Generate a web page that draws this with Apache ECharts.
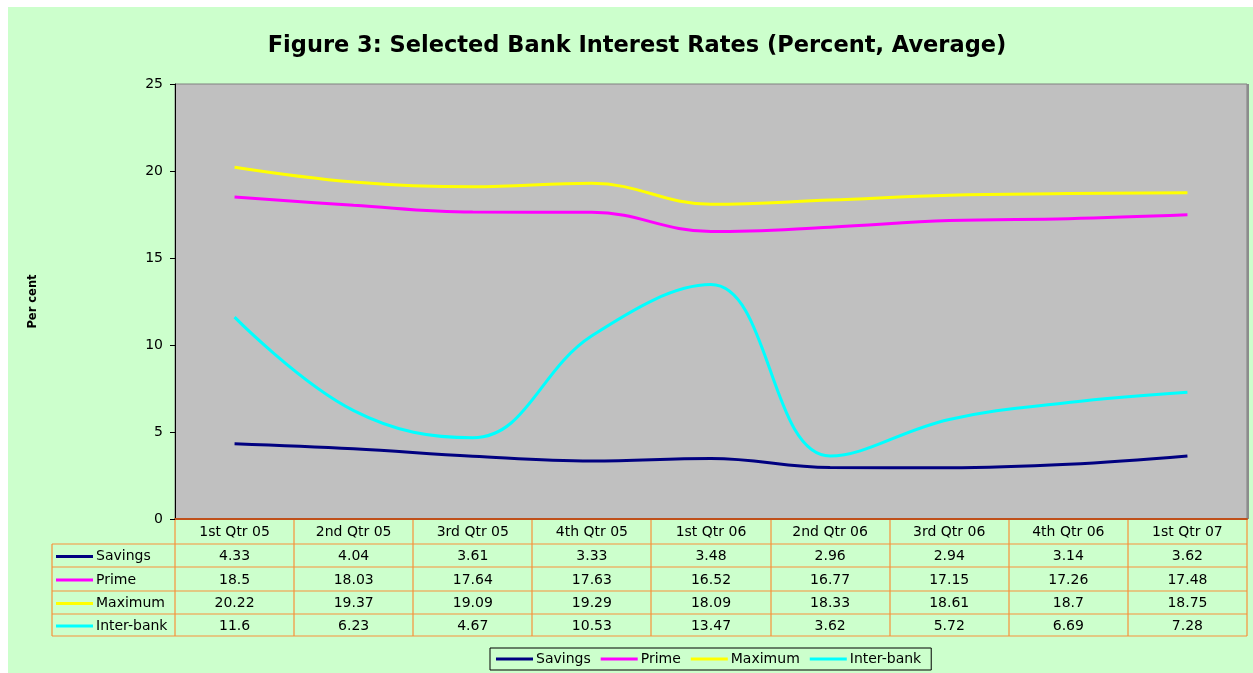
<!DOCTYPE html>
<html>
<head>
<meta charset="utf-8">
<script src="https://cdn.jsdelivr.net/npm/echarts@6/dist/echarts.min.js"></script>
<style>
  html, body { margin: 0; padding: 0; background: #ffffff; }
  #main { width: 1253px; height: 673px; }
</style>
</head>
<body>
<div id="main"></div>
<script>
// data
const quarters = ['1st Qtr 05', '2nd Qtr 05', '3rd Qtr 05', '4th Qtr 05', '1st Qtr 06', '2nd Qtr 06', '3rd Qtr 06', '4th Qtr 06', '1st Qtr 07']
const savings = [4.33, 4.04, 3.61, 3.33, 3.48, 2.96, 2.94, 3.14, 3.62]
const prime = [18.5, 18.03, 17.64, 17.63, 16.52, 16.77, 17.15, 17.26, 17.48]
const maximum = [20.22, 19.37, 19.09, 19.29, 18.09, 18.33, 18.61, 18.7, 18.75]
const interbank = [11.6, 6.23, 4.67, 10.53, 13.47, 3.62, 5.72, 6.69, 7.28]
const seriesNames = ['Savings', 'Prime', 'Maximum', 'Inter-bank']
const seriesColors = ['#000080', '#FF00FF', '#FFFF00', '#00FFFF']

const chartDom = document.getElementById('main')
const myChart = echarts.init(chartDom)

// grid box (px)
const gLeft = 175
const gTop = 84
const gRight = 1247
const gBottom = 519
const colW = (gRight - gLeft) / quarters.length
const tableLeft = 52
const rowLines = [544, 567, 591, 614, 636] // horizontal rules of the data table
const tableColor = '#F7913A'
const font = 'DejaVu Sans, Verdana, sans-serif'

const allData = [savings, prime, maximum, interbank]

const graphics = [
  // white strips at top and left
  { type: 'rect', shape: { x: 0, y: 0, width: 1253, height: 7 }, style: { fill: '#ffffff' }, silent: true },
  { type: 'rect', shape: { x: 0, y: 0, width: 8, height: 673 }, style: { fill: '#ffffff' }, silent: true },
  // darker right edge of the plot area
  { type: 'line', shape: { x1: gRight + 1, y1: gTop, x2: gRight + 1, y2: gBottom }, style: { stroke: '#8C8C8C', lineWidth: 2 }, silent: true }
]

// table horizontal lines
for (const y of rowLines) {
  graphics.push({ type: 'line', shape: { x1: tableLeft, y1: y, x2: gRight, y2: y }, style: { stroke: tableColor, lineWidth: 1.2 }, silent: true })
}
// table vertical lines
graphics.push({ type: 'line', shape: { x1: tableLeft, y1: rowLines[0], x2: tableLeft, y2: rowLines[rowLines.length - 1] }, style: { stroke: tableColor, lineWidth: 1.2 }, silent: true })
for (let i = 0; i <= quarters.length; i++) {
  const x = Math.round(gLeft + i * colW)
  graphics.push({ type: 'line', shape: { x1: x, y1: gBottom, x2: x, y2: rowLines[rowLines.length - 1] }, style: { stroke: tableColor, lineWidth: 1.2 }, silent: true })
}
// row keys, names and values
for (let r = 0; r < allData.length; r++) {
  const yMid = (rowLines[r] + rowLines[r + 1]) / 2 + 1
  graphics.push({ type: 'line', shape: { x1: 56, y1: yMid, x2: 93, y2: yMid }, style: { stroke: seriesColors[r], lineWidth: 3 }, silent: true })
  graphics.push({ type: 'text', x: 96, y: yMid, style: { text: seriesNames[r], fill: '#000', font: '14px ' + font, textVerticalAlign: 'middle' }, silent: true })
  for (let i = 0; i < quarters.length; i++) {
    graphics.push({
      type: 'text',
      x: gLeft + (i + 0.5) * colW,
      y: yMid,
      style: { text: String(allData[r][i]), fill: '#000', font: '14px ' + font, textAlign: 'center', textVerticalAlign: 'middle' },
      silent: true
    })
  }
}

const option = {
  backgroundColor: '#CCFFCC',
  animation: false,
  title: {
    text: 'Figure 3: Selected Bank Interest Rates (Percent, Average)',
    left: 632,
    textAlign: 'center',
    top: 30,
    textStyle: { fontFamily: font, fontSize: 22.5, fontWeight: 'bold', color: '#000' }
  },
  legend: {
    left: 490,
    top: 648,
    data: seriesNames,
    icon: 'rect',
    itemWidth: 37,
    itemHeight: 3,
    itemGap: 10,
    padding: [4, 10, 4, 6],
    borderColor: '#000',
    borderWidth: 1,
    textStyle: { fontFamily: font, fontSize: 14, color: '#000', padding: [0, 0, 0, -2] }
  },
  grid: {
    left: gLeft,
    top: gTop,
    right: 1253 - gRight,
    bottom: 673 - gBottom,
    show: true,
    backgroundColor: '#C0C0C0',
    borderColor: '#808080',
    borderWidth: 1
  },
  xAxis: {
    type: 'category',
    data: quarters,
    boundaryGap: true,
    axisLine: { lineStyle: { color: '#C0501A', width: 2 } },
    axisTick: { show: false },
    axisLabel: { color: '#000', fontFamily: font, fontSize: 14, margin: 6, interval: 0 }
  },
  yAxis: {
    type: 'value',
    min: 0,
    max: 25,
    interval: 5,
    name: 'Per cent',
    nameLocation: 'middle',
    nameRotate: 90,
    nameGap: 136,
    nameTextStyle: { fontFamily: font, fontSize: 11.5, fontWeight: 'bold', color: '#000' },
    axisLine: { show: true, lineStyle: { color: '#000', width: 1 } },
    axisTick: { show: true, length: 5, lineStyle: { color: '#000' } },
    splitLine: { show: false },
    axisLabel: { color: '#000', fontFamily: font, fontSize: 14, margin: 12 }
  },
  series: seriesNames.map((name, k) => ({
    name: name,
    type: 'line',
    data: allData[k],
    smooth: 0.4,
    showSymbol: false,
    symbol: 'none',
    color: seriesColors[k],
    lineStyle: { width: 3, color: seriesColors[k] }
  })),
  graphic: graphics
}
option && myChart.setOption(option)
</script>
</body>
</html>
